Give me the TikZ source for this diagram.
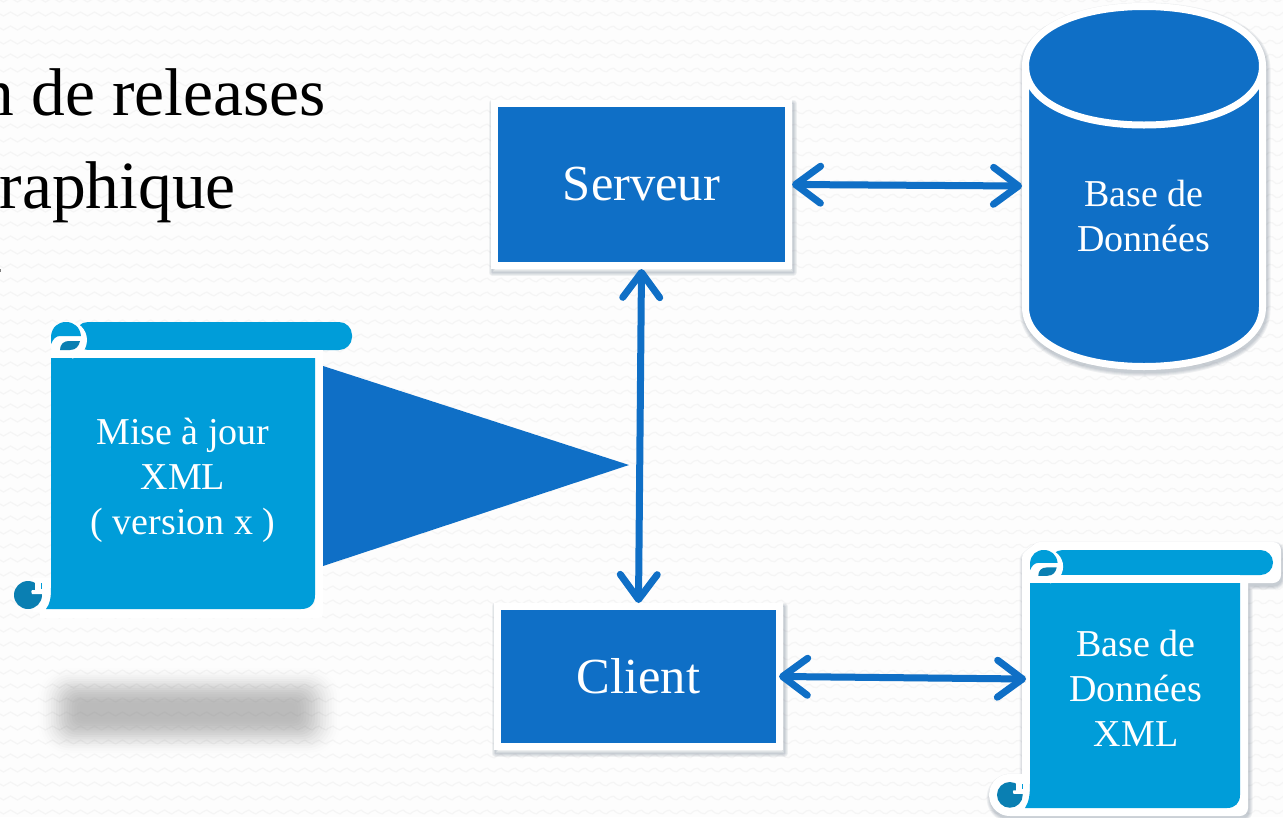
\documentclass[tikz,border=0pt]{standalone}
\usepackage{fontspec}
\setmainfont{Liberation Serif}
\usetikzlibrary{arrows.meta,calc}
\definecolor{boxblue}{HTML}{0F6FC6}
\definecolor{scrollblue}{HTML}{009DD9}
\definecolor{curlteal}{HTML}{0A7FB2}
\definecolor{paper}{HTML}{FDFDFD}
\definecolor{paperwave}{HTML}{F5F5F5}
\definecolor{shadowtone}{HTML}{33465F}
\tikzset{
  x=1pt,y=-1pt,
  boxnode/.style={draw=white,fill=boxblue,line width=7pt,text=white,font=\fontsize{50.5}{56}\selectfont},
  lbl/.style={text=white,align=center,font=\fontsize{38}{45}\selectfont},
  ttl/.style={anchor=base east,inner sep=0pt,text=black,font=\fontsize{67.5}{70}\selectfont},
  link/.style={draw=boxblue,line width=7pt,{Straight Barb[length=25pt,width=37pt,round]}-{Straight Barb[length=25pt,width=37pt,round]}},
  linkshade/.style={draw=shadowtone,opacity=.10,line width=7pt,shift={(0,3)}},
  anchorpt/.style={inner sep=0pt,outer sep=0pt,minimum size=0pt}
}
% soft shadow for a given path; the optional value is the width of the path's own outline
\newcommand\softshade[2][0]{%
  \foreach \w in {1,3,5,7}{\draw[shadowtone,opacity=.07,line width={\w pt + #1 pt},line join=round,shift={(1,3)}] #2;}}
% curl at the top left of a scroll (origin = its top-left corner, size 36)
\newcommand\topcurl[3]{%
  \begin{scope}[shift={(#1,#2)},scale=#3]
    \fill[white] (17,18) circle[radius=19];
    \fill[scrollblue] (0,14) .. controls (1,5) and (7,0) .. (15,0) .. controls (23,0) and (29,5) .. (30,14) -- (9,14) .. controls (5,14) and (2,17) .. (0,22) -- cycle;
    \fill[curlteal] (9,28) .. controls (9,22) and (13,19) .. (18,19) -- (29,19) .. controls (28,24) and (25,28) .. (19,28) -- cycle;
  \end{scope}}
% curl at the bottom left of a scroll (origin = its top-left corner, size 29)
\newcommand\botcurl[3]{%
  \begin{scope}[shift={(#1,#2)},scale=#3]
    \fill[white] (19,-3) rectangle (38,31);
    \fill[curlteal] (14,14) circle[radius=14];
    \fill[white] (21,-1) rectangle (32,11);
    \fill[white] (18,9) -- (32,9) -- (32,13) -- (18,13) .. controls (17,11) and (17,10) .. (18,9) -- cycle;
    \fill[scrollblue] (27,2) rectangle (28.2,8);
  \end{scope}}
\begin{document}
\begin{tikzpicture}
\useasboundingbox (0,0) rectangle (1283,817);
\clip (0,0) rectangle (1283,817);
\fill[paper] (0,0) rectangle (1283,817);
\foreach \r in {0,14,...,820}{
  \draw[paperwave,line width=1.2pt] plot[domain=0:1283,samples=367] (\x,{\r+2*sin(mod(\x,14)*25.714)});
}
% title remains
\node[ttl] (t1) at (326,115) {n de releases};
\node[ttl] (t2) at (236,208) {raphique};
\fill[gray] (0,269) rectangle (1,272);
% blurred shadow lying under the first scroll
\foreach \i in {0,...,16}{
  \pgfmathsetmacro\rr{4+1.6*(16-\i)}
  \pgfmathsetmacro\aa{.004+.018*sin(\i*11.25)}
  \fill[black,opacity=\aa,rounded corners=\rr pt] ({38+2.6*\i},{668+2.2*\i}) rectangle ({340-2.8*\i},{755-2.25*\i});
}
% cylinder
\softshade[7]{(1025.5,66) .. controls (1025.5,29) and (1078,6.5) .. (1144,6.5) .. controls (1210,6.5) and (1262.5,29) .. (1262.5,66) -- (1262.5,307) .. controls (1262.5,344) and (1210,366.5) .. (1144,366.5) .. controls (1078,366.5) and (1025.5,344) .. (1025.5,307) -- cycle}
\draw[white,fill=boxblue,line width=7pt] (1025.5,66) .. controls (1025.5,29) and (1078,6.5) .. (1144,6.5) .. controls (1210,6.5) and (1262.5,29) .. (1262.5,66) -- (1262.5,307) .. controls (1262.5,344) and (1210,366.5) .. (1144,366.5) .. controls (1078,366.5) and (1025.5,344) .. (1025.5,307) -- cycle;
\draw[white,line width=7pt] (1025.5,66) .. controls (1025.5,103) and (1078,125) .. (1144,125) .. controls (1210,125) and (1262.5,103) .. (1262.5,66);
\node[anchorpt,minimum width=244pt,minimum height=1pt] (db) at (1144,186) {};
\node[lbl] (dbtext) at (1144,216) {Base de\\Données};
% triangle
\fill[boxblue] (323,366) -- (629,465) -- (323,566) -- cycle;
% first scroll
\fill[scrollblue,rounded corners=13pt] (75,322) rectangle (352,350);
\fill[white] (51,350) rectangle (323,358);
\draw[white,line width=8pt,line join=round] (323,354) -- (319,354) -- (319,614) -- (40,614);
\botcurl{14}{581}{1}
\fill[scrollblue] (51,358) -- (315,358) -- (315,595) .. controls (315,604) and (310,609) .. (301,609) -- (46,609) .. controls (50,604) and (51,598) .. (51,588) -- cycle;
\topcurl{51}{322}{1}
\fill[scrollblue] (51,358) rectangle (72,380);
\node[lbl] (upd) at (183,480) {Mise à jour\\XML\\( version x )};
% second scroll
\softshade[16]{(1030,558) -- (1030,782) -- (1010,782) .. controls (1002,782) and (997,788) .. (997,795) .. controls (997,802) and (1002,808) .. (1010,808) -- (1240,808) -- (1240,575) -- (1273,575) -- (1273,550) -- (1040,550) -- cycle}
\draw[white,fill=white,line width=16pt,line join=round] (1030,558) -- (1030,782) -- (1010,782) .. controls (1002,782) and (997,788) .. (997,795) .. controls (997,802) and (1002,808) .. (1010,808) -- (1240,808) -- (1240,575) -- (1273,575) -- (1273,550) -- (1040,550) -- cycle;
\fill[scrollblue,rounded corners=12.5pt] (1050,550) rectangle (1273,575);
\fill[white] (1030,575) rectangle (1240,583);
\botcurl{997}{782}{.92}
\fill[scrollblue] (1030,583) -- (1240,583) -- (1240,795) .. controls (1240,803) and (1235,808) .. (1227,808) -- (1025,808) .. controls (1029,802) and (1030,795) .. (1030,783) -- cycle;
\topcurl{1030}{550}{.92}
\fill[scrollblue] (1030,583) rectangle (1050,600);
\node[lbl] (xml) at (1136,688) {Base de\\Données\\XML};
\coordinate (xmlin) at (1026,679);
% boxes
\softshade{(491,100) rectangle (792,269)}
\softshade{(494,603) rectangle (783,750)}
\node[boxnode,minimum width=294pt,minimum height=162pt] (srv) at (641.5,184.5) {Serveur};
\node[boxnode,minimum width=282pt,minimum height=140pt] (cli) at (638.5,676.5) {Client};
% connectors
\draw[linkshade] (srv.east) -- (db.west);
\draw[linkshade] (cli.east) -- (xmlin);
\draw[link] (srv.east) -- (db.west);
\draw[link] (srv.south) -- (cli.north);
\draw[link,shorten <=-4pt] (cli.east) -- (xmlin);
\end{tikzpicture}
\end{document}
